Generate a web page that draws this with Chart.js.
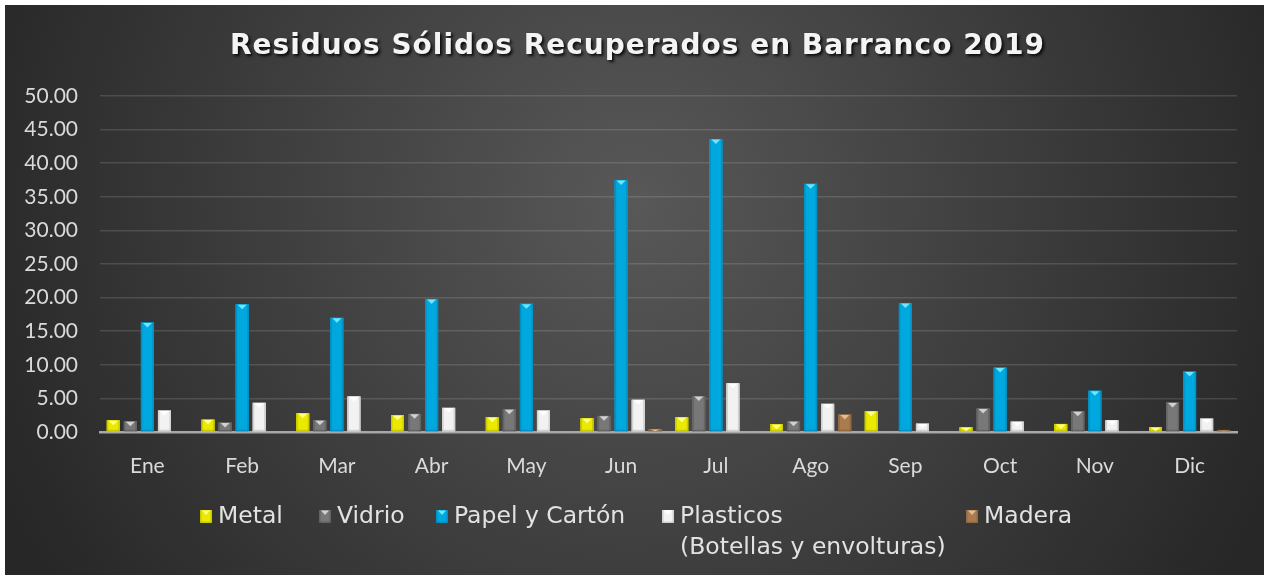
<!DOCTYPE html>
<html>
<head>
<meta charset="utf-8">
<script src="https://cdn.jsdelivr.net/npm/chart.js@4/dist/chart.umd.min.js"></script>
<style>
  body { margin: 0; background: #fff; }
  #caja { position: absolute; left: 5px; top: 5px; width: 1259px; height: 570px; }
</style>
</head>
<body>
<div id="caja"><canvas id="grafico"></canvas></div>
<script>
const meses = ['Ene', 'Feb', 'Mar', 'Abr', 'May', 'Jun', 'Jul', 'Ago', 'Sep', 'Oct', 'Nov', 'Dic'];
const metal = [1.75, 1.85, 2.8, 2.5, 2.2, 2.05, 2.2, 1.15, 3.1, 0.7, 1.2, 0.7];
const vidrio = [1.6, 1.4, 1.75, 2.7, 3.4, 2.4, 5.35, 1.6, 0, 3.5, 3.1, 4.4];
const papel = [16.3, 19.0, 17.0, 19.8, 19.1, 37.5, 43.6, 36.95, 19.2, 9.6, 6.15, 9.0];
const plasticos = [3.2, 4.35, 5.3, 3.6, 3.2, 4.8, 7.25, 4.2, 1.25, 1.55, 1.75, 2.0];
const madera = [0, 0, 0.1, 0, 0, 0.45, 0, 2.6, 0, 0, 0, 0.25];
const series = ['Metal', 'Vidrio', 'Papel y Cartón', 'Plasticos', 'Madera'];
const titulo = 'Residuos Sólidos Recuperados en Barranco 2019';

// colores: base, claro (triangulo superior), oscuro (bordes)
const colores = [
    ['#eaea00', '#ffff8c', '#b5b500'],
    ['#787878', '#d0d0d0', '#575757'],
    ['#00a8e0', '#6fe6ff', '#0083b3'],
    ['#f2f2f2', '#ffffff', '#bdbdbd'],
    ['#a97b4f', '#e8bc8c', '#82603e']
];

function bisel(ctx, x0, x1, top, bottom, c) {
    const w = x1 - x0, h = bottom - top;
    if (h <= 0) return;
    ctx.save();
    ctx.fillStyle = c[0];
    ctx.fillRect(x0, top, w, h);
    ctx.fillStyle = c[2];
    ctx.globalAlpha = 0.6;
    ctx.fillRect(x0, top, 1.5, h);
    ctx.fillRect(x1 - 1.5, top, 1.5, h);
    ctx.fillRect(x0, bottom - 1.5, w, 1.5);
    ctx.globalAlpha = 1;
    const th = Math.min(5, h);
    ctx.fillStyle = c[1];
    ctx.beginPath();
    ctx.moveTo(x0 + 2, top + 0.5);
    ctx.lineTo(x1 - 2, top + 0.5);
    ctx.lineTo((x0 + x1) / 2, top + th);
    ctx.closePath();
    ctx.fill();
    ctx.restore();
}

const fondo = {
    id: 'fondo',
    beforeDraw(chart) {
        const ctx = chart.ctx, w = chart.width, h = chart.height;
        const g = ctx.createRadialGradient(w * 0.5, h * 0.35, 0, w * 0.5, h * 0.35, w * 0.55);
        g.addColorStop(0, '#585858');
        g.addColorStop(1, '#272727');
        ctx.save();
        ctx.fillStyle = g;
        ctx.fillRect(0, 0, w, h);
        ctx.restore();
    }
};

const barrasBisel = {
    id: 'barrasBisel',
    afterDatasetsDraw(chart) {
        const ctx = chart.ctx;
        chart.data.datasets.forEach((ds, i) => {
            chart.getDatasetMeta(i).data.forEach(bar => {
                bisel(ctx, bar.x - bar.width / 2, bar.x + bar.width / 2, bar.y, bar.base, colores[i]);
            });
        });
    }
};

const tituloLeyenda = {
    id: 'tituloLeyenda',
    afterDraw(chart) {
        const ctx = chart.ctx;
        ctx.save();
        ctx.font = 'bold 28px "DejaVu Sans"';
        ctx.letterSpacing = '1px';
        ctx.fillStyle = '#f4f4f4';
        ctx.textAlign = 'center';
        ctx.textBaseline = 'middle';
        ctx.shadowColor = 'rgba(0,0,0,0.85)';
        ctx.shadowOffsetX = 2;
        ctx.shadowOffsetY = 2;
        ctx.shadowBlur = 3;
        ctx.fillText(titulo, chart.width / 2 + 3, 42);
        ctx.restore();

        // leyenda
        const xs = [195, 314, 431, 657, 961];
        ctx.save();
        ctx.font = '23.5px "DejaVu Sans"';
        ctx.fillStyle = '#e2e2e2';
        ctx.textBaseline = 'middle';
        series.forEach((s, i) => {
            bisel(ctx, xs[i], xs[i] + 12, 505, 518, colores[i]);
            ctx.fillText(s, xs[i] + 18, 512);
        });
        ctx.fillText('(Botellas y envolturas)', xs[3] + 18, 543);
        ctx.restore();
    }
};

const ctx = document.getElementById('grafico').getContext('2d');
new Chart(ctx, {
    type: 'bar',
    data: {
        labels: meses,
        datasets: [metal, vidrio, papel, plasticos, madera].map((d, i) => ({
            label: series[i],
            data: d,
            backgroundColor: colores[i][0],
            borderWidth: 0,
            categoryPercentage: 0.9,
            barPercentage: 0.76
        }))
    },
    options: {
        responsive: true,
        maintainAspectRatio: false,
        animation: false,
        layout: { padding: { left: 0, right: 27, top: 91, bottom: 0 } },
        plugins: {
            legend: { display: false },
            title: { display: false },
            tooltip: { enabled: false }
        },
        scales: {
            x: {
                grid: { display: false },
                border: { color: '#a8a8a8', width: 2.5 },
                ticks: { color: '#dadada', font: { family: 'Lato', size: 21 }, padding: 14 },
                afterFit(scale) { scale.height = 143; }
            },
            y: {
                min: 0,
                max: 50,
                ticks: {
                    stepSize: 5,
                    color: '#dadada',
                    font: { family: 'Lato', size: 21 },
                    padding: 22,
                    callback: v => v.toFixed(2)
                },
                grid: { color: 'rgba(255,255,255,0.13)', lineWidth: 1.5, drawTicks: false },
                border: { display: false },
                afterFit(scale) { scale.width = 95; }
            }
        }
    },
    plugins: [fondo, barrasBisel, tituloLeyenda]
});
</script>
</body>
</html>
